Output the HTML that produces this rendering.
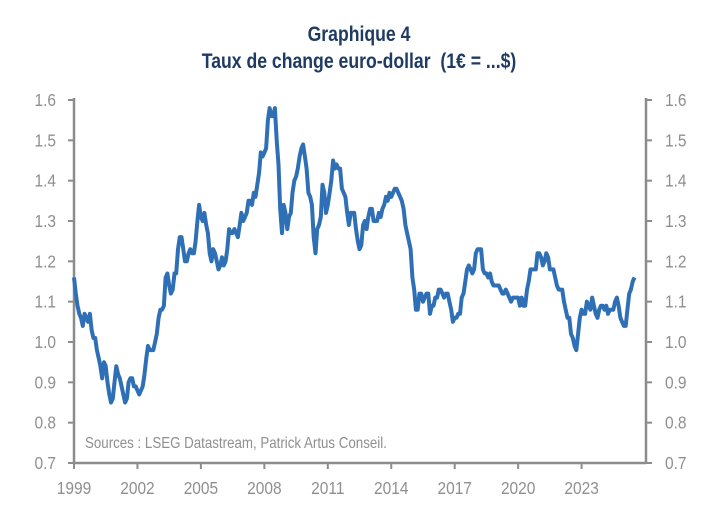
<!DOCTYPE html>
<html><head><meta charset="utf-8"><style>
body{margin:0;background:#fff;width:718px;height:517px;overflow:hidden;font-family:"Liberation Sans",sans-serif}
</style></head><body>
<svg id="c" width="718" height="517" style="position:absolute;left:0;top:0"></svg>
<script>
const xTicks=[1999,2002,2005,2008,2011,2014,2017,2020,2023];
const yTicks=[0.7,0.8,0.9,1.0,1.1,1.2,1.3,1.4,1.5,1.6];
const startYear=1999;
const eurusd=[
1.16,1.12,1.09,1.07,1.06,1.04,1.07,1.06,1.05,1.07,1.03,1.01,
1.01,0.98,0.96,0.94,0.91,0.95,0.94,0.90,0.87,0.85,0.86,0.90,
0.94,0.92,0.91,0.89,0.87,0.85,0.86,0.90,0.91,0.91,0.89,0.89,
0.88,0.87,0.88,0.89,0.92,0.96,0.99,0.98,0.98,0.98,1.00,1.02,
1.06,1.08,1.08,1.09,1.16,1.17,1.14,1.12,1.13,1.17,1.17,1.23,
1.26,1.26,1.23,1.20,1.20,1.22,1.23,1.22,1.22,1.25,1.30,1.34,
1.31,1.30,1.32,1.29,1.27,1.22,1.20,1.23,1.22,1.20,1.18,1.19,
1.21,1.19,1.20,1.23,1.28,1.27,1.27,1.28,1.27,1.26,1.29,1.32,
1.30,1.31,1.32,1.35,1.35,1.34,1.37,1.36,1.39,1.42,1.47,1.46,
1.47,1.48,1.55,1.58,1.56,1.56,1.58,1.50,1.44,1.33,1.27,1.34,
1.32,1.28,1.31,1.32,1.37,1.40,1.41,1.43,1.46,1.48,1.49,1.46,
1.43,1.37,1.36,1.34,1.26,1.22,1.28,1.29,1.31,1.39,1.37,1.32,
1.34,1.37,1.40,1.45,1.43,1.44,1.43,1.43,1.38,1.37,1.36,1.32,
1.29,1.32,1.32,1.32,1.28,1.25,1.23,1.24,1.29,1.30,1.28,1.31,
1.33,1.33,1.30,1.30,1.30,1.32,1.31,1.33,1.34,1.36,1.35,1.37,
1.36,1.37,1.38,1.38,1.37,1.36,1.35,1.33,1.29,1.27,1.25,1.23,
1.16,1.13,1.08,1.08,1.12,1.12,1.10,1.11,1.12,1.12,1.07,1.09,
1.09,1.11,1.11,1.13,1.13,1.12,1.11,1.12,1.12,1.10,1.08,1.05,
1.06,1.06,1.07,1.07,1.11,1.12,1.15,1.18,1.19,1.18,1.17,1.18,
1.22,1.23,1.23,1.23,1.18,1.17,1.17,1.16,1.17,1.15,1.14,1.14,
1.14,1.14,1.13,1.12,1.12,1.13,1.12,1.11,1.10,1.11,1.11,1.11,
1.11,1.09,1.11,1.09,1.09,1.13,1.15,1.18,1.18,1.18,1.18,1.22,
1.22,1.21,1.19,1.20,1.22,1.21,1.18,1.18,1.18,1.16,1.14,1.13,
1.13,1.13,1.10,1.08,1.06,1.06,1.02,1.01,0.99,0.98,1.02,1.06,
1.08,1.07,1.07,1.10,1.09,1.08,1.11,1.09,1.07,1.06,1.08,1.09,
1.09,1.08,1.09,1.07,1.08,1.08,1.08,1.10,1.11,1.09,1.06,1.05,
1.04,1.04,1.08,1.12,1.13,1.15,1.16];
const NS="http://www.w3.org/2000/svg",svg=document.getElementById('c');
const L=74,R=646,T=100,B=463;
const x=yr=>L+(yr-1999)*21.15;
const y=v=>B-(v-0.7)/0.9*(B-T);
function mk(t,a){const e=document.createElementNS(NS,t);for(const k in a)e.setAttribute(k,a[k]);svg.appendChild(e);return e;}
function txt(str,px,py,anchor,size,fill,weight,sx){
 const t=mk('text',{transform:`translate(${px},${py}) scale(${sx},1)`,'text-anchor':anchor,'font-size':size,fill:fill,'font-weight':weight});
 t.textContent=str;return t;}
const g='#8c8c8c',lab='#8f8f8f';
let e=txt('Graphique 4',359,41,'middle',21,'#1f3b63','bold',0.84);


e=txt('Taux de change euro-dollar\u00a0 (1€ = ...$)',359,68,'middle',21,'#1f3b63','bold',0.84);


e=mk('line',{x1:L,y1:T-2,x2:L,y2:B,stroke:g,'stroke-width':2.5});


e=mk('line',{x1:R,y1:T-2,x2:R,y2:B,stroke:g,'stroke-width':2.5});


e=mk('line',{x1:L,y1:B,x2:R,y2:B,stroke:g,'stroke-width':2.5});


yTicks.forEach(v=>{
 mk('line',{x1:L-6,x2:L,y1:y(v),y2:y(v),stroke:g,'stroke-width':2});
 mk('line',{x1:R,x2:R+6,y1:y(v),y2:y(v),stroke:g,'stroke-width':2});
 let t=txt(v.toFixed(1),L-18,y(v)+6,'end',18,lab,'normal',0.86);
 
 
 t=txt(v.toFixed(1),R+19,y(v)+6,'start',18,lab,'normal',0.86);
 
 
});
xTicks.forEach(yr=>{
 mk('line',{x1:x(yr),x2:x(yr),y1:B,y2:B+6,stroke:g,'stroke-width':2});
 const t=txt(String(yr),x(yr),B+31,'middle',18,lab,'normal',0.86);
 
 
});
const s=txt('Sources : LSEG Datastream, Patrick Artus Conseil.',85,448,'start',15.5,lab,'normal',0.86);


const d=eurusd.map((v,i)=>(i?'L':'M')+x(startYear+i/12).toFixed(1)+','+y(v).toFixed(1)).join('');
const p=mk('path',{d:d,fill:'none',stroke:'#2e6fb5','stroke-width':4,'stroke-linejoin':'round'});


</script>
</body></html>
